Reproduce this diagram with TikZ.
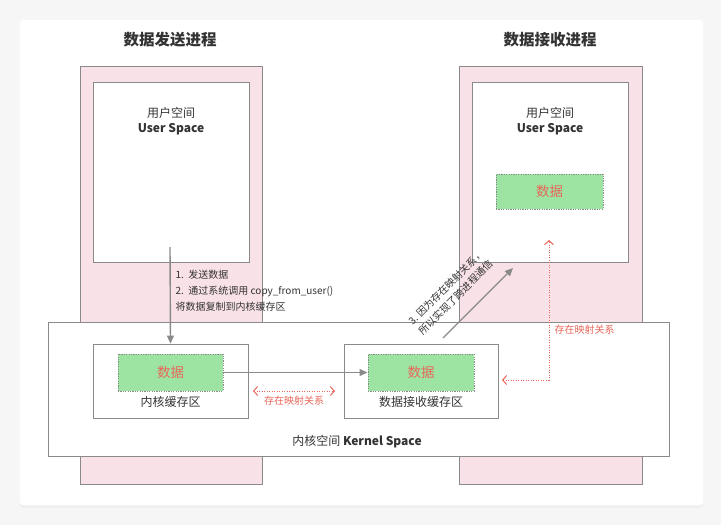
\documentclass[tikz,border=0pt]{standalone}
\usepackage{fontspec}
\setmainfont{Noto Sans CJK SC}
\usetikzlibrary{arrows.meta,positioning,shadows,calc}
\definecolor{PinkFill}{HTML}{F9E2E7}
\definecolor{LineGray}{HTML}{8A8A8A}
\definecolor{DataGreen}{HTML}{9DE4A3}
\definecolor{MapRed}{HTML}{E8675B}
\definecolor{TextDark}{HTML}{333333}
\definecolor{PageGray}{HTML}{F6F6F6}
\tikzset{
  PC/.style={rectangle,draw=LineGray,fill=PinkFill,line width=0.8pt},
  WB/.style={rectangle,draw=LineGray,fill=white,line width=0.8pt},
  DB/.style={rectangle,draw=LineGray,fill=DataGreen,
             dash pattern=on 1.2pt off 1.2pt,line width=1pt,
             text=MapRed,font=\fontsize{13.5}{16}\selectfont},
  TT/.style={text=TextDark,font=\fontsize{15.5}{18}\selectfont\bfseries},
  LB/.style={text=TextDark,align=center,font=\fontsize{12}{15}\selectfont},
  SM/.style={text=TextDark,align=left,font=\fontsize{10}{16}\selectfont},
  RM/.style={text=MapRed,font=\fontsize{10}{12}\selectfont},
  arr/.style={-{Triangle[length=8pt,width=7pt]},draw=LineGray,line width=1.4pt},
  map/.style={{Straight Barb[length=4pt,width=9pt,line width=1pt]}-{Straight Barb[length=4pt,width=9pt,line width=1pt]},
              draw=MapRed,dash pattern=on 1pt off 1.5pt,line width=1pt}
}
\begin{document}
\begin{tikzpicture}[x=1pt,y=-1pt]
  \useasboundingbox (0,0) rectangle (721,525);
  \fill[PageGray] (0,0) rectangle (721,525);
  \fill[white,rounded corners=3pt,
        drop shadow={opacity=0.05,shadow xshift=0pt,shadow yshift=-3pt}]
    (20,20) rectangle (703,505);

  % processes
  \node[TT] (sendT) at (170,40) {数据发送进程};
  \node[TT] (recvT) at (550,40) {数据接收进程};
  \node[PC,minimum width=182,minimum height=418] (sendP) at (171,275) {};
  \node[PC,minimum width=183,minimum height=418] (recvP) at (550.5,275) {};
  \node[WB,minimum width=156,minimum height=180] (sendU) at (171,172) {};
  \node[WB,minimum width=156,minimum height=180] (recvU) at (550,172) {};
  \node[LB] (sendUL) at (171,121) {用户空间\\\textbf{User Space}};
  \node[LB] (recvUL) at (550,121) {用户空间\\\textbf{User Space}};
  \node[DB,minimum width=107,minimum height=35] (dataU) at (549.5,191.5) {数据};

  % kernel
  \node[WB,minimum width=621,minimum height=134] (kern) at (358.5,389) {};
  \node[LB] (kernL) at (357,442) {内核空间 \textbf{Kernel Space}};
  \node[WB,minimum width=155,minimum height=74] (kbufL) at (170.5,381) {};
  \node[WB,minimum width=154,minimum height=74] (kbufR) at (421,381) {};
  \node[DB,minimum width=105,minimum height=37] (dataL) at (170.5,372.5) {数据};
  \node[DB,minimum width=106,minimum height=37] (dataR) at (421,372.5) {数据};
  \node[LB,below=1pt of dataL] (kbufLL) {内核缓存区};
  \node[LB,below=1pt of dataR] (kbufRL) {数据接收缓存区};

  % copy
  \coordinate (cpA) at (170,247);
  \draw[arr] (cpA) -- (kbufL.north);
  \node[SM,anchor=north west] (cpL) at (172,267)
    {1.\ \ 发送数据\\2.\ \ 通过系统调用 copy\_from\_user()\\将数据复制到内核缓存区};
  \draw[arr] (dataL.east) -- (dataR.west);

  % mapping
  \coordinate (mapA) at (253,391);
  \coordinate (mapB) at (335,391);
  \draw[map] (mapA) -- (mapB);
  \node[RM] (mapL1) at (294,401) {存在映射关系};
  \coordinate (mapC) at (502,380);
  \coordinate (mapD) at (549,240);
  \draw[map] (mapC) -| (mapD);
  \node[RM,anchor=west] (mapL2) at (551,330) {存在映射关系};

  % ipc
  \coordinate (ipA) at (443,338);
  \coordinate (ipB) at (513,268);
  \draw[arr] (ipA) -- (ipB);
  \node[SM,rotate=45,font=\fontsize{10}{14}\selectfont] (ipL) at (451,292)
    {3. 因为存在映射关系，\\所以实现了跨进程通信};
\end{tikzpicture}
\end{document}
